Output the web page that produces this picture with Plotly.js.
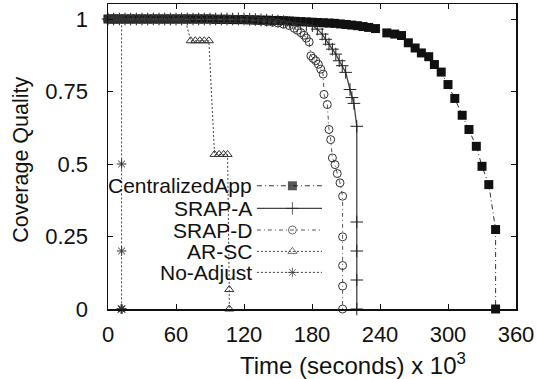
<!DOCTYPE html>
<html>
<head>
<meta charset="utf-8">
<script src="https://cdn.plot.ly/plotly-3.0.1.min.js"></script>
<style>html,body{margin:0;padding:0;background:#fff;}#chart{width:537px;height:379px;}</style>
</head>
<body>
<div id="chart"></div>
<script>
// ---- data ----
const seriesNames = ["CentralizedApp", "SRAP-A", "SRAP-D", "AR-SC", "No-Adjust"];

const centralX = [0,5,10,15,20,25,30,35,40,45,50,55,60,65,70,75,80,85,90,95,100,105,110,115,120,125,130,135,140,145,150,155,160,165,170,175,180,185,190,195,200,205,210,215,220,225,230,
  236,246,253,259,265,271,276.5,283,288,294,300,306,312.5,318.5,325,330,336,342,342];
const centralY = [1,1,1,1,1,1,1,1,1,1,1,1,1,1,1,1,1,1,1,0.999,0.999,0.999,0.998,0.998,0.998,0.997,0.997,0.996,0.996,0.995,0.995,0.994,0.993,0.992,0.991,0.99,0.989,0.988,0.987,0.986,0.985,0.983,0.981,0.979,0.977,0.974,0.971,
  0.967,0.952,0.948,0.943,0.918,0.9,0.883,0.87,0.843,0.817,0.774,0.726,0.668,0.619,0.561,0.492,0.429,0.274,0];

const srapAX = [0,5,10,15,20,25,30,35,40,45,50,55,60,65,70,75,80,85,90,95,100,105,110,115,120,125,130,135,140,145,150,155,160,165,170,175,
  180.3,184.7,189,192,195,198,201,204,206.7,209.7,213.5,215.2,217,219.5,219.5,219.5,219.5,219.5];
const srapAY = [1,1,1,1,1,1,1,1,1,1,1,1,1,1,1,1,1,1,1,1,1,1,1,1,1,0.999,0.998,0.997,0.996,0.995,0.993,0.991,0.989,0.986,0.983,0.98,
  0.977,0.965,0.948,0.93,0.913,0.896,0.879,0.856,0.839,0.816,0.757,0.729,0.709,0.63,0.3,0.2,0.1,0];

const srapDX = [0,5,10,15,20,25,30,35,40,45,50,55,60,65,70,75,80,85,90,95,100,105,110,115,120,125,130,135,140,145,150,155,
  160,164.3,167.2,170.2,173,175,177.5,179,181,183.3,185.6,187.7,189.8,190.6,193.5,195,196.5,198,200.3,202.3,204.7,207,207,207,207,207];
const srapDY = [1,1,1,1,1,1,1,1,1,1,1,1,1,1,1,1,1,1,1,1,1,1,1,0.999,0.998,0.997,0.995,0.993,0.991,0.989,0.986,0.982,
  0.977,0.968,0.961,0.953,0.944,0.934,0.921,0.873,0.864,0.856,0.844,0.827,0.81,0.74,0.705,0.619,0.584,0.521,0.498,0.467,0.435,0.389,0.249,0.15,0.079,0];

const arscX = [0,4,8,12,16,20,24,28,32,36,40,44,48,52,56,60,64,68,73,77,81,85,89,94,98,102,105.5,107,107];
const arscY = [1,1,1,1,1,1,1,1,1,1,1,1,1,1,1,1,1,1,0.925,0.925,0.925,0.925,0.925,0.533,0.533,0.533,0.533,0.067,0];

const noAdjX = [0,2,4,6,8,10,12,12,12,12,11.5,12.5];
const noAdjY = [1,1,1,1,1,1,1,0.5,0.2,0,0,0];

const xTickVals = [0,60,120,180,240,300,360];
const xTickText = ["0","60","120","180","240","300","360"];
const yTickVals = [0,0.25,0.5,0.75,1];
const yTickText = ["0","0.25","0.5","0.75","1"];

const xTitle = "Time (seconds) x 10<sup>3</sup>";
const yTitle = "Coverage Quality";

// ---- styles ----
const FONT = "Liberation Sans, Arial, Helvetica, sans-serif";
const styles = [
  {line:{color:"#333", width:1, dash:"5px,3px,1px,3px"}, marker:{symbol:"square", size:9, color:"#111", line:{width:0}}},
  {line:{color:"#444", width:1.3, dash:"solid"}, marker:{symbol:"cross-thin-open", size:9, color:"#222", line:{width:1, color:"#222"}}},
  {line:{color:"#555", width:1, dash:"4px,3px,1px,3px"}, marker:{symbol:"circle-open", size:8, color:"#333", line:{width:1, color:"#333"}}},
  {line:{color:"#444", width:1, dash:"2px,2px"}, marker:{symbol:"triangle-up-open", size:8, color:"#333", line:{width:1, color:"#333"}}},
  {line:{color:"#444", width:1, dash:"2px,2px"}, marker:{symbol:"asterisk-open", size:8, color:"#333", line:{width:1, color:"#333"}}}
];
const seriesX = [centralX, srapAX, srapDX, arscX, noAdjX];
const seriesY = [centralY, srapAY, srapDY, arscY, noAdjY];

const traces = [];
for (let i = 0; i < seriesNames.length; i++) {
  traces.push({
    type: "scatter", mode: "lines+markers", name: seriesNames[i],
    x: seriesX[i], y: seriesY[i],
    line: styles[i].line, marker: styles[i].marker,
    showlegend: false, hoverinfo: "skip", cliponaxis: false
  });
}

// ---- custom legend (text left, sample right), in overlay axis fractions ----
const legX0 = 0.365, legXM = 0.452, legX1 = 0.5245, legTextX = 0.357;
const legRows = [0.404, 0.330, 0.259, 0.189, 0.120];
const annotations = [];
for (let i = 0; i < seriesNames.length; i++) {
  const m = Object.assign({}, styles[i].marker);
  m.size = [0, styles[i].marker.size, 0];
  traces.push({
    type: "scatter", mode: "lines+markers", xaxis: "x2", yaxis: "y2",
    x: [legX0, legXM, legX1], y: [legRows[i], legRows[i], legRows[i]],
    line: styles[i].line, marker: m, showlegend: false, hoverinfo: "skip"
  });
  annotations.push({
    xref: "paper", yref: "paper", x: legTextX, y: legRows[i],
    xanchor: "right", yanchor: "middle", showarrow: false,
    text: seriesNames[i], font: {family: FONT, size: 21, color: "#111"}
  });
}
annotations.push({
  xref: "paper", yref: "paper", x: 0.6, y: -0.18, xanchor: "center", yanchor: "middle",
  showarrow: false, text: xTitle, font: {family: FONT, size: 24, color: "#111"}
});
annotations.push({
  xref: "paper", yref: "paper", x: -0.215, y: 0.49, xanchor: "center", yanchor: "middle",
  showarrow: false, textangle: -90, text: yTitle, font: {family: FONT, size: 21.5, color: "#111"}
});

const axisCommon = {
  showgrid: false, zeroline: false, showline: true, mirror: "allticks",
  linecolor: "#111", linewidth: 1.5, ticks: "inside", ticklen: 5, tickwidth: 1, tickcolor: "#111",
  tickfont: {family: FONT, size: 22, color: "#111"}, fixedrange: true
};

const layout = {
  width: 537, height: 379,
  margin: {l: 108, r: 21, t: 4, b: 70},
  paper_bgcolor: "#fff", plot_bgcolor: "#fff",
  showlegend: false,
  xaxis: Object.assign({}, axisCommon, {range: [0, 360], tickmode: "array", tickvals: xTickVals, ticktext: xTickText, ticklabelstandoff: 5}),
  yaxis: Object.assign({}, axisCommon, {range: [0, 305/290], tickmode: "array", tickvals: yTickVals, ticktext: yTickText, ticklabelstandoff: 14}),
  xaxis2: {overlaying: "x", range: [0, 1], visible: false, fixedrange: true},
  yaxis2: {overlaying: "y", range: [0, 1], visible: false, fixedrange: true},
  annotations: annotations
};

Plotly.newPlot("chart", traces, layout, {staticPlot: true, displayModeBar: false});
</script>
</body>
</html>
